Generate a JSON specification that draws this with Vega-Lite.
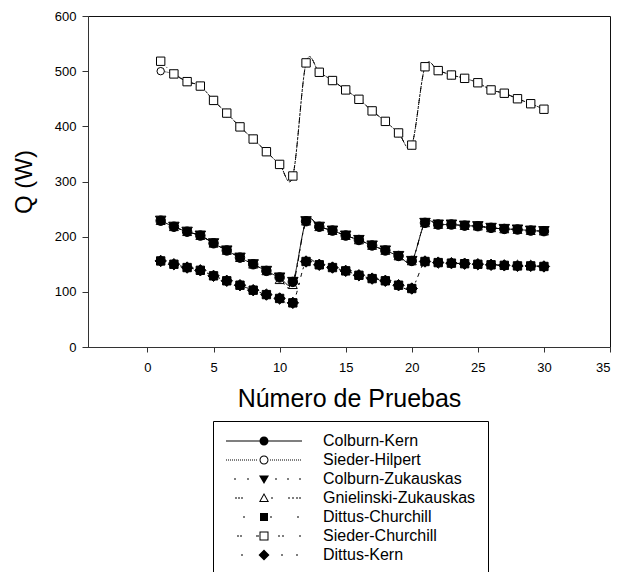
{
  "$schema": "https://vega.github.io/schema/vega-lite/v6.json",
  "autosize": "none",
  "width": 522,
  "height": 331,
  "padding": {"left": 88, "top": 16, "right": 20, "bottom": 230},
  "background": "white",
  "config": {
    "font": "Liberation Sans",
    "view": {"stroke": "#111", "strokeWidth": 1},
    "axis": {
      "grid": false,
      "domainColor": "#333",
      "tickColor": "#333",
      "labelColor": "black",
      "titleColor": "black",
      "labelFont": "Liberation Sans",
      "titleFont": "Liberation Sans",
      "labelFontSize": 13,
      "titleFontWeight": "normal"
    }
  },
  "data": {
    "values": [
      {"metodo": "Sieder-Hilpert", "prueba": 1, "q": 500}, {"metodo": "Sieder-Hilpert", "prueba": 2, "q": 495}, {"metodo": "Sieder-Hilpert", "prueba": 3, "q": 481}, {"metodo": "Sieder-Hilpert", "prueba": 4, "q": 473}, {"metodo": "Sieder-Hilpert", "prueba": 5, "q": 447}, {"metodo": "Sieder-Hilpert", "prueba": 6, "q": 424}, {"metodo": "Sieder-Hilpert", "prueba": 7, "q": 399}, {"metodo": "Sieder-Hilpert", "prueba": 8, "q": 377}, {"metodo": "Sieder-Hilpert", "prueba": 9, "q": 354}, {"metodo": "Sieder-Hilpert", "prueba": 10, "q": 331},
      {"metodo": "Sieder-Hilpert", "prueba": 11, "q": 310}, {"metodo": "Sieder-Hilpert", "prueba": 12, "q": 515}, {"metodo": "Sieder-Hilpert", "prueba": 13, "q": 498}, {"metodo": "Sieder-Hilpert", "prueba": 14, "q": 483}, {"metodo": "Sieder-Hilpert", "prueba": 15, "q": 466}, {"metodo": "Sieder-Hilpert", "prueba": 16, "q": 449}, {"metodo": "Sieder-Hilpert", "prueba": 17, "q": 428}, {"metodo": "Sieder-Hilpert", "prueba": 18, "q": 409}, {"metodo": "Sieder-Hilpert", "prueba": 19, "q": 388}, {"metodo": "Sieder-Hilpert", "prueba": 20, "q": 366},
      {"metodo": "Sieder-Hilpert", "prueba": 21, "q": 508}, {"metodo": "Sieder-Hilpert", "prueba": 22, "q": 501}, {"metodo": "Sieder-Hilpert", "prueba": 23, "q": 493}, {"metodo": "Sieder-Hilpert", "prueba": 24, "q": 487}, {"metodo": "Sieder-Hilpert", "prueba": 25, "q": 479}, {"metodo": "Sieder-Hilpert", "prueba": 26, "q": 466}, {"metodo": "Sieder-Hilpert", "prueba": 27, "q": 460}, {"metodo": "Sieder-Hilpert", "prueba": 28, "q": 450}, {"metodo": "Sieder-Hilpert", "prueba": 29, "q": 441}, {"metodo": "Sieder-Hilpert", "prueba": 30, "q": 431},

      {"metodo": "Sieder-Churchill", "prueba": 1, "q": 518}, {"metodo": "Sieder-Churchill", "prueba": 2, "q": 495}, {"metodo": "Sieder-Churchill", "prueba": 3, "q": 481}, {"metodo": "Sieder-Churchill", "prueba": 4, "q": 473}, {"metodo": "Sieder-Churchill", "prueba": 5, "q": 447}, {"metodo": "Sieder-Churchill", "prueba": 6, "q": 424}, {"metodo": "Sieder-Churchill", "prueba": 7, "q": 399}, {"metodo": "Sieder-Churchill", "prueba": 8, "q": 377}, {"metodo": "Sieder-Churchill", "prueba": 9, "q": 354}, {"metodo": "Sieder-Churchill", "prueba": 10, "q": 331},
      {"metodo": "Sieder-Churchill", "prueba": 11, "q": 310}, {"metodo": "Sieder-Churchill", "prueba": 12, "q": 515}, {"metodo": "Sieder-Churchill", "prueba": 13, "q": 498}, {"metodo": "Sieder-Churchill", "prueba": 14, "q": 483}, {"metodo": "Sieder-Churchill", "prueba": 15, "q": 466}, {"metodo": "Sieder-Churchill", "prueba": 16, "q": 449}, {"metodo": "Sieder-Churchill", "prueba": 17, "q": 428}, {"metodo": "Sieder-Churchill", "prueba": 18, "q": 409}, {"metodo": "Sieder-Churchill", "prueba": 19, "q": 388}, {"metodo": "Sieder-Churchill", "prueba": 20, "q": 366},
      {"metodo": "Sieder-Churchill", "prueba": 21, "q": 508}, {"metodo": "Sieder-Churchill", "prueba": 22, "q": 501}, {"metodo": "Sieder-Churchill", "prueba": 23, "q": 493}, {"metodo": "Sieder-Churchill", "prueba": 24, "q": 487}, {"metodo": "Sieder-Churchill", "prueba": 25, "q": 479}, {"metodo": "Sieder-Churchill", "prueba": 26, "q": 466}, {"metodo": "Sieder-Churchill", "prueba": 27, "q": 460}, {"metodo": "Sieder-Churchill", "prueba": 28, "q": 450}, {"metodo": "Sieder-Churchill", "prueba": 29, "q": 441}, {"metodo": "Sieder-Churchill", "prueba": 30, "q": 431},

      {"metodo": "Gnielinski-Zukauskas", "prueba": 1, "q": 229}, {"metodo": "Gnielinski-Zukauskas", "prueba": 2, "q": 218}, {"metodo": "Gnielinski-Zukauskas", "prueba": 3, "q": 209}, {"metodo": "Gnielinski-Zukauskas", "prueba": 4, "q": 202}, {"metodo": "Gnielinski-Zukauskas", "prueba": 5, "q": 188}, {"metodo": "Gnielinski-Zukauskas", "prueba": 6, "q": 175}, {"metodo": "Gnielinski-Zukauskas", "prueba": 7, "q": 162}, {"metodo": "Gnielinski-Zukauskas", "prueba": 8, "q": 150}, {"metodo": "Gnielinski-Zukauskas", "prueba": 9, "q": 138}, {"metodo": "Gnielinski-Zukauskas", "prueba": 10, "q": 122},
      {"metodo": "Gnielinski-Zukauskas", "prueba": 11, "q": 113}, {"metodo": "Gnielinski-Zukauskas", "prueba": 12, "q": 228}, {"metodo": "Gnielinski-Zukauskas", "prueba": 13, "q": 218}, {"metodo": "Gnielinski-Zukauskas", "prueba": 14, "q": 211}, {"metodo": "Gnielinski-Zukauskas", "prueba": 15, "q": 202}, {"metodo": "Gnielinski-Zukauskas", "prueba": 16, "q": 194}, {"metodo": "Gnielinski-Zukauskas", "prueba": 17, "q": 184}, {"metodo": "Gnielinski-Zukauskas", "prueba": 18, "q": 175}, {"metodo": "Gnielinski-Zukauskas", "prueba": 19, "q": 165}, {"metodo": "Gnielinski-Zukauskas", "prueba": 20, "q": 156},
      {"metodo": "Gnielinski-Zukauskas", "prueba": 21, "q": 225}, {"metodo": "Gnielinski-Zukauskas", "prueba": 22, "q": 222}, {"metodo": "Gnielinski-Zukauskas", "prueba": 23, "q": 222}, {"metodo": "Gnielinski-Zukauskas", "prueba": 24, "q": 220}, {"metodo": "Gnielinski-Zukauskas", "prueba": 25, "q": 219}, {"metodo": "Gnielinski-Zukauskas", "prueba": 26, "q": 216}, {"metodo": "Gnielinski-Zukauskas", "prueba": 27, "q": 214}, {"metodo": "Gnielinski-Zukauskas", "prueba": 28, "q": 213}, {"metodo": "Gnielinski-Zukauskas", "prueba": 29, "q": 211}, {"metodo": "Gnielinski-Zukauskas", "prueba": 30, "q": 210},

      {"metodo": "Colburn-Kern", "prueba": 1, "q": 229}, {"metodo": "Colburn-Kern", "prueba": 2, "q": 218}, {"metodo": "Colburn-Kern", "prueba": 3, "q": 209}, {"metodo": "Colburn-Kern", "prueba": 4, "q": 202}, {"metodo": "Colburn-Kern", "prueba": 5, "q": 188}, {"metodo": "Colburn-Kern", "prueba": 6, "q": 175}, {"metodo": "Colburn-Kern", "prueba": 7, "q": 162}, {"metodo": "Colburn-Kern", "prueba": 8, "q": 150}, {"metodo": "Colburn-Kern", "prueba": 9, "q": 138}, {"metodo": "Colburn-Kern", "prueba": 10, "q": 126},
      {"metodo": "Colburn-Kern", "prueba": 11, "q": 118}, {"metodo": "Colburn-Kern", "prueba": 12, "q": 228}, {"metodo": "Colburn-Kern", "prueba": 13, "q": 218}, {"metodo": "Colburn-Kern", "prueba": 14, "q": 211}, {"metodo": "Colburn-Kern", "prueba": 15, "q": 202}, {"metodo": "Colburn-Kern", "prueba": 16, "q": 194}, {"metodo": "Colburn-Kern", "prueba": 17, "q": 184}, {"metodo": "Colburn-Kern", "prueba": 18, "q": 175}, {"metodo": "Colburn-Kern", "prueba": 19, "q": 165}, {"metodo": "Colburn-Kern", "prueba": 20, "q": 156},
      {"metodo": "Colburn-Kern", "prueba": 21, "q": 225}, {"metodo": "Colburn-Kern", "prueba": 22, "q": 222}, {"metodo": "Colburn-Kern", "prueba": 23, "q": 222}, {"metodo": "Colburn-Kern", "prueba": 24, "q": 220}, {"metodo": "Colburn-Kern", "prueba": 25, "q": 219}, {"metodo": "Colburn-Kern", "prueba": 26, "q": 216}, {"metodo": "Colburn-Kern", "prueba": 27, "q": 214}, {"metodo": "Colburn-Kern", "prueba": 28, "q": 213}, {"metodo": "Colburn-Kern", "prueba": 29, "q": 211}, {"metodo": "Colburn-Kern", "prueba": 30, "q": 210},

      {"metodo": "Colburn-Zukauskas", "prueba": 1, "q": 229}, {"metodo": "Colburn-Zukauskas", "prueba": 2, "q": 218}, {"metodo": "Colburn-Zukauskas", "prueba": 3, "q": 209}, {"metodo": "Colburn-Zukauskas", "prueba": 4, "q": 202}, {"metodo": "Colburn-Zukauskas", "prueba": 5, "q": 188}, {"metodo": "Colburn-Zukauskas", "prueba": 6, "q": 175}, {"metodo": "Colburn-Zukauskas", "prueba": 7, "q": 162}, {"metodo": "Colburn-Zukauskas", "prueba": 8, "q": 150}, {"metodo": "Colburn-Zukauskas", "prueba": 9, "q": 138}, {"metodo": "Colburn-Zukauskas", "prueba": 10, "q": 126},
      {"metodo": "Colburn-Zukauskas", "prueba": 11, "q": 118}, {"metodo": "Colburn-Zukauskas", "prueba": 12, "q": 228}, {"metodo": "Colburn-Zukauskas", "prueba": 13, "q": 218}, {"metodo": "Colburn-Zukauskas", "prueba": 14, "q": 211}, {"metodo": "Colburn-Zukauskas", "prueba": 15, "q": 202}, {"metodo": "Colburn-Zukauskas", "prueba": 16, "q": 194}, {"metodo": "Colburn-Zukauskas", "prueba": 17, "q": 184}, {"metodo": "Colburn-Zukauskas", "prueba": 18, "q": 175}, {"metodo": "Colburn-Zukauskas", "prueba": 19, "q": 165}, {"metodo": "Colburn-Zukauskas", "prueba": 20, "q": 156},
      {"metodo": "Colburn-Zukauskas", "prueba": 21, "q": 225}, {"metodo": "Colburn-Zukauskas", "prueba": 22, "q": 222}, {"metodo": "Colburn-Zukauskas", "prueba": 23, "q": 222}, {"metodo": "Colburn-Zukauskas", "prueba": 24, "q": 220}, {"metodo": "Colburn-Zukauskas", "prueba": 25, "q": 219}, {"metodo": "Colburn-Zukauskas", "prueba": 26, "q": 216}, {"metodo": "Colburn-Zukauskas", "prueba": 27, "q": 214}, {"metodo": "Colburn-Zukauskas", "prueba": 28, "q": 213}, {"metodo": "Colburn-Zukauskas", "prueba": 29, "q": 211}, {"metodo": "Colburn-Zukauskas", "prueba": 30, "q": 210},

      {"metodo": "Dittus-Churchill", "prueba": 1, "q": 156}, {"metodo": "Dittus-Churchill", "prueba": 2, "q": 150}, {"metodo": "Dittus-Churchill", "prueba": 3, "q": 144}, {"metodo": "Dittus-Churchill", "prueba": 4, "q": 139}, {"metodo": "Dittus-Churchill", "prueba": 5, "q": 129}, {"metodo": "Dittus-Churchill", "prueba": 6, "q": 120}, {"metodo": "Dittus-Churchill", "prueba": 7, "q": 112}, {"metodo": "Dittus-Churchill", "prueba": 8, "q": 103}, {"metodo": "Dittus-Churchill", "prueba": 9, "q": 95}, {"metodo": "Dittus-Churchill", "prueba": 10, "q": 88},
      {"metodo": "Dittus-Churchill", "prueba": 11, "q": 80}, {"metodo": "Dittus-Churchill", "prueba": 12, "q": 155}, {"metodo": "Dittus-Churchill", "prueba": 13, "q": 149}, {"metodo": "Dittus-Churchill", "prueba": 14, "q": 144}, {"metodo": "Dittus-Churchill", "prueba": 15, "q": 138}, {"metodo": "Dittus-Churchill", "prueba": 16, "q": 130}, {"metodo": "Dittus-Churchill", "prueba": 17, "q": 124}, {"metodo": "Dittus-Churchill", "prueba": 18, "q": 120}, {"metodo": "Dittus-Churchill", "prueba": 19, "q": 112}, {"metodo": "Dittus-Churchill", "prueba": 20, "q": 106},
      {"metodo": "Dittus-Churchill", "prueba": 21, "q": 155}, {"metodo": "Dittus-Churchill", "prueba": 22, "q": 153}, {"metodo": "Dittus-Churchill", "prueba": 23, "q": 152}, {"metodo": "Dittus-Churchill", "prueba": 24, "q": 151}, {"metodo": "Dittus-Churchill", "prueba": 25, "q": 150}, {"metodo": "Dittus-Churchill", "prueba": 26, "q": 149}, {"metodo": "Dittus-Churchill", "prueba": 27, "q": 148}, {"metodo": "Dittus-Churchill", "prueba": 28, "q": 147}, {"metodo": "Dittus-Churchill", "prueba": 29, "q": 147}, {"metodo": "Dittus-Churchill", "prueba": 30, "q": 146},

      {"metodo": "Dittus-Kern", "prueba": 1, "q": 156}, {"metodo": "Dittus-Kern", "prueba": 2, "q": 150}, {"metodo": "Dittus-Kern", "prueba": 3, "q": 144}, {"metodo": "Dittus-Kern", "prueba": 4, "q": 139}, {"metodo": "Dittus-Kern", "prueba": 5, "q": 129}, {"metodo": "Dittus-Kern", "prueba": 6, "q": 120}, {"metodo": "Dittus-Kern", "prueba": 7, "q": 112}, {"metodo": "Dittus-Kern", "prueba": 8, "q": 103}, {"metodo": "Dittus-Kern", "prueba": 9, "q": 95}, {"metodo": "Dittus-Kern", "prueba": 10, "q": 88},
      {"metodo": "Dittus-Kern", "prueba": 11, "q": 80}, {"metodo": "Dittus-Kern", "prueba": 12, "q": 155}, {"metodo": "Dittus-Kern", "prueba": 13, "q": 149}, {"metodo": "Dittus-Kern", "prueba": 14, "q": 144}, {"metodo": "Dittus-Kern", "prueba": 15, "q": 138}, {"metodo": "Dittus-Kern", "prueba": 16, "q": 130}, {"metodo": "Dittus-Kern", "prueba": 17, "q": 124}, {"metodo": "Dittus-Kern", "prueba": 18, "q": 120}, {"metodo": "Dittus-Kern", "prueba": 19, "q": 112}, {"metodo": "Dittus-Kern", "prueba": 20, "q": 106},
      {"metodo": "Dittus-Kern", "prueba": 21, "q": 155}, {"metodo": "Dittus-Kern", "prueba": 22, "q": 153}, {"metodo": "Dittus-Kern", "prueba": 23, "q": 152}, {"metodo": "Dittus-Kern", "prueba": 24, "q": 151}, {"metodo": "Dittus-Kern", "prueba": 25, "q": 150}, {"metodo": "Dittus-Kern", "prueba": 26, "q": 149}, {"metodo": "Dittus-Kern", "prueba": 27, "q": 148}, {"metodo": "Dittus-Kern", "prueba": 28, "q": 147}, {"metodo": "Dittus-Kern", "prueba": 29, "q": 147}, {"metodo": "Dittus-Kern", "prueba": 30, "q": 146}
    ]
  },
  "encoding": {
    "x": {
      "field": "prueba",
      "type": "quantitative",
      "scale": {"domain": [-4.5, 35], "nice": false, "zero": false},
      "axis": {
        "title": "Número de Pruebas",
        "titleFontSize": 25,
        "titlePadding": 12,
        "values": [0, 5, 10, 15, 20, 25, 30, 35],
        "tickSize": 5,
        "labelPadding": 9
      }
    },
    "y": {
      "field": "q",
      "type": "quantitative",
      "scale": {"domain": [0, 600], "nice": false},
      "axis": {
        "title": "Q (W)",
        "titleFontSize": 24,
        "titlePadding": 18,
        "values": [0, 100, 200, 300, 400, 500, 600],
        "tickSize": 6,
        "labelPadding": 6
      }
    }
  },
  "resolve": {"scale": {"shape": "independent"}, "legend": {"shape": "independent"}},
  "layer": [
    {
      "description": "Legend key: each series' line style and marker as one filled symbol path; the marks themselves are transparent",
      "mark": {"type": "point", "filled": true, "color": "black", "opacity": 0, "size": 4, "strokeWidth": 0},
      "encoding": {
        "shape": {
          "field": "metodo",
          "type": "nominal",
          "scale": {
            "domain": ["Colburn-Kern", "Sieder-Hilpert", "Colburn-Zukauskas", "Gnielinski-Zukauskas", "Dittus-Churchill", "Sieder-Churchill", "Dittus-Kern"],
            "range": [
              "M-38,-0.5h34v1h-34ZM4,-0.5h34v1h-34ZM-4.5,0A4.5,4.5,0,1,1,4.5,0A4.5,4.5,0,1,1,-4.5,0Z",
              "M-38,-0.5h1v1h-1ZM-36,-0.5h1v1h-1ZM-34,-0.5h1v1h-1ZM-32,-0.5h1v1h-1ZM-30,-0.5h1v1h-1ZM-28,-0.5h1v1h-1ZM-26,-0.5h1v1h-1ZM-24,-0.5h1v1h-1ZM-22,-0.5h1v1h-1ZM-20,-0.5h1v1h-1ZM-18,-0.5h1v1h-1ZM-16,-0.5h1v1h-1ZM-14,-0.5h1v1h-1ZM-12,-0.5h1v1h-1ZM-10,-0.5h1v1h-1ZM-8,-0.5h1v1h-1ZM6,-0.5h1v1h-1ZM8,-0.5h1v1h-1ZM10,-0.5h1v1h-1ZM12,-0.5h1v1h-1ZM14,-0.5h1v1h-1ZM16,-0.5h1v1h-1ZM18,-0.5h1v1h-1ZM20,-0.5h1v1h-1ZM22,-0.5h1v1h-1ZM24,-0.5h1v1h-1ZM26,-0.5h1v1h-1ZM28,-0.5h1v1h-1ZM30,-0.5h1v1h-1ZM32,-0.5h1v1h-1ZM34,-0.5h1v1h-1ZM36,-0.5h1v1h-1ZM-4.5,0A4.5,4.5,0,1,1,4.5,0A4.5,4.5,0,1,1,-4.5,0ZM-3.5,0A3.5,3.5,0,1,0,3.5,0A3.5,3.5,0,1,0,-3.5,0Z",
              "M-30,-0.5h2v1h-2ZM-17,-0.5h2v1h-2ZM11,-0.5h2v1h-2ZM23,-0.5h2v1h-2ZM35,-0.5h2v1h-2ZM-5,-3.5L5,-3.5L0,5Z",
              "M-29,-0.5h2v1h-2ZM-26,-0.5h2v1h-2ZM-23,-0.5h2v1h-2ZM7,-0.5h2v1h-2ZM24,-0.5h2v1h-2ZM28,-0.5h2v1h-2ZM32,-0.5h2v1h-2ZM35,-0.5h2v1h-2ZM-5,4L5,4L0,-5ZM-3.3,3.1L0,-2.9L3.3,3.1Z",
              "M-21,-0.5h2v1h-2ZM6,-0.5h2v1h-2ZM33,-0.5h2v1h-2ZM-4,-4L4,-4L4,4L-4,4Z",
              "M-27,-0.5h2v1h-2ZM-24,-0.5h2v1h-2ZM-8,-0.5h3v1h-3ZM14,-0.5h2v1h-2ZM18,-0.5h2v1h-2ZM35,-0.5h2v1h-2ZM-4.5,-4.5L4.5,-4.5L4.5,4.5L-4.5,4.5ZM-3.5,-3.5L-3.5,3.5L3.5,3.5L3.5,-3.5Z",
              "M-23,-0.5h2v1h-2ZM17,-0.5h2v1h-2ZM32,-0.5h2v1h-2ZM-5.5,0L0,-5.5L5.5,0L0,5.5Z"
            ]
          },
          "legend": {
            "orient": "none",
            "legendX": 125,
            "legendY": 405,
            "direction": "vertical",
            "title": null,
            "padding": 12,
            "strokeColor": "black",
            "fillColor": "white",
            "labelFont": "Liberation Sans",
            "labelFontSize": 16,
            "labelColor": "black",
            "labelLimit": 300,
            "symbolSize": 4,
            "symbolOpacity": 1,
            "symbolFillColor": "black",
            "symbolStrokeWidth": 0,
            "symbolOffset": 31,
            "labelOffset": 51,
            "rowPadding": 3
          }
        }
      }
    },
    {
      "mark": {"type": "line", "interpolate": "cardinal", "color": "black", "strokeWidth": 1},
      "encoding": {
        "strokeDash": {
          "field": "metodo",
          "type": "nominal",
          "scale": {
            "domain": ["Colburn-Kern", "Colburn-Zukauskas", "Dittus-Churchill", "Dittus-Kern", "Gnielinski-Zukauskas", "Sieder-Churchill", "Sieder-Hilpert"],
            "range": [[1, 0], [2, 10], [2, 8], [2, 6], [6, 4, 2, 4], [5, 3, 1, 3], [1, 1]]
          },
          "legend": null
        }
      }
    },
    {
      "mark": {"type": "point", "filled": true, "stroke": "black", "strokeWidth": 1, "opacity": 1},
      "encoding": {
        "shape": {
          "field": "metodo",
          "type": "nominal",
          "scale": {
            "domain": ["Colburn-Kern", "Colburn-Zukauskas", "Dittus-Churchill", "Dittus-Kern", "Gnielinski-Zukauskas", "Sieder-Churchill", "Sieder-Hilpert"],
            "range": ["circle", "triangle-down", "square", "diamond", "triangle-up", "square", "circle"]
          },
          "legend": null
        },
        "fill": {
          "field": "metodo",
          "type": "nominal",
          "scale": {
            "domain": ["Colburn-Kern", "Colburn-Zukauskas", "Dittus-Churchill", "Dittus-Kern", "Gnielinski-Zukauskas", "Sieder-Churchill", "Sieder-Hilpert"],
            "range": ["black", "black", "black", "black", "white", "white", "white"]
          },
          "legend": null
        },
        "size": {
          "field": "metodo",
          "type": "nominal",
          "scale": {
            "type": "ordinal",
            "domain": ["Colburn-Kern", "Colburn-Zukauskas", "Dittus-Churchill", "Dittus-Kern", "Gnielinski-Zukauskas", "Sieder-Churchill", "Sieder-Hilpert"],
            "range": [90, 110, 70, 130, 80, 70, 55]
          },
          "legend": null
        }
      }
    }
  ]
}
